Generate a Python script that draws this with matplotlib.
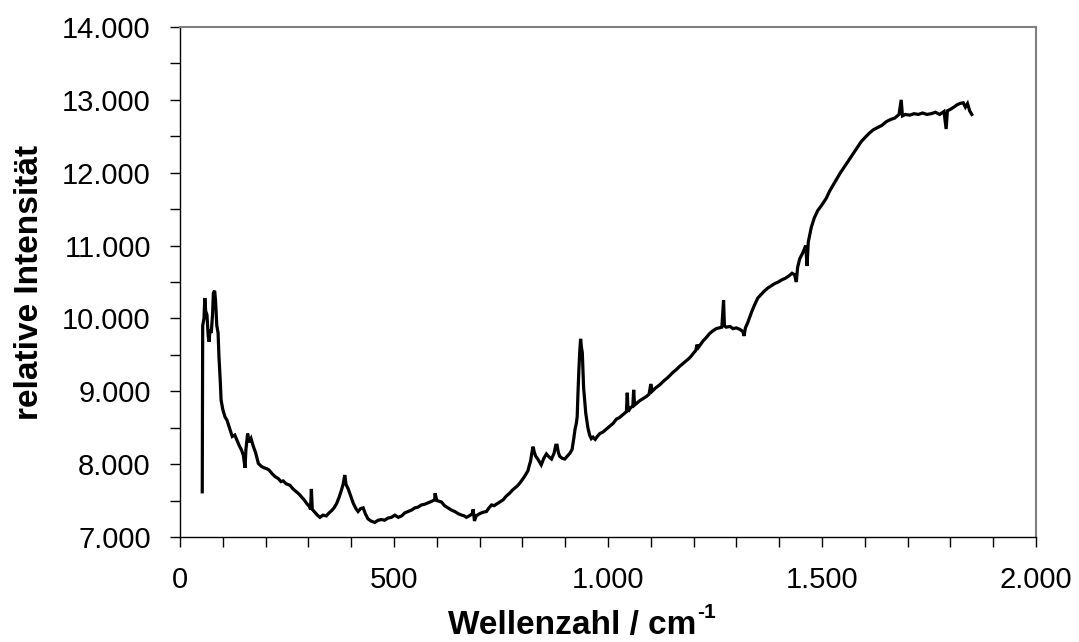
import matplotlib
matplotlib.use("Agg")
import matplotlib.pyplot as plt
from matplotlib.ticker import MultipleLocator, FuncFormatter

plt.rcParams['font.family'] = ['Liberation Sans', 'DejaVu Sans']

# spectrum (wavenumber / relative intensity)
wavenumber = [
    52, 53, 56, 58, 60, 63, 66, 68, 70, 73, 76, 78, 81, 83, 86, 89, 91, 94, 96, 100,
    105, 110, 117, 122, 128, 133, 138, 144, 148, 152, 154, 158, 162, 166, 171, 177, 183, 190, 196, 202,
    208, 215, 222, 230, 236, 241, 248, 257, 264, 272, 278, 284, 290, 296, 302, 305, 307, 309, 315, 321,
    327, 334, 342, 348, 354, 360, 366, 372, 377, 381, 385, 388, 393, 399, 405, 411, 416, 422, 428, 433,
    439, 446, 455, 463, 471, 478, 486, 494, 502, 510, 518, 525, 533, 541, 549, 556, 564, 572, 580, 588,
    595, 596, 600, 606, 611, 618, 626, 634, 642, 650, 658, 664, 669, 676, 683, 685, 688, 692, 700, 708,
    716, 722, 728, 734, 739, 747, 755, 762, 770, 776, 782, 788, 794, 800, 805, 810, 813, 816, 819, 822,
    825, 828, 831, 837, 844, 850, 856, 862, 868, 874, 878, 881, 884, 887, 893, 899, 905, 911, 916, 920,
    923, 926, 928, 930, 932, 934, 936, 938, 940, 942, 943, 946, 948, 951, 953, 957, 961, 965, 970, 975,
    981, 988, 996, 1004, 1012, 1020, 1027, 1035, 1043, 1045, 1047, 1052, 1058, 1060, 1062, 1068, 1074, 1082, 1090, 1096,
    1100, 1103, 1110, 1121, 1130, 1140, 1150, 1160, 1167, 1175, 1183, 1191, 1198, 1205, 1208, 1211, 1217, 1222, 1230, 1237,
    1245, 1253, 1260, 1266, 1270, 1272, 1276, 1285, 1292, 1300, 1308, 1315, 1318, 1321, 1327, 1335, 1342, 1350, 1358, 1366,
    1374, 1382, 1390, 1398, 1406, 1414, 1422, 1430, 1436, 1440, 1443, 1448, 1455, 1462, 1465, 1468, 1475, 1482, 1490, 1500,
    1510, 1518, 1525, 1533, 1542, 1550, 1558, 1566, 1575, 1584, 1592, 1600, 1610, 1620, 1630, 1640, 1650, 1660, 1670, 1680,
    1685, 1688, 1695, 1705, 1715, 1725, 1735, 1745, 1755, 1765, 1775, 1785, 1790, 1793, 1800, 1808, 1815, 1822, 1830, 1835,
    1840, 1845, 1850,
]
intensity = [
    7620, 9900, 10000, 10280, 10100, 10050, 9750, 9680, 9850, 9800, 10050, 10350, 10380, 10250, 9900, 9800, 9480, 9150, 8880, 8750,
    8650, 8600, 8470, 8380, 8400, 8330, 8260, 8190, 8120, 7950, 8200, 8420, 8300, 8350, 8250, 8150, 8010, 7970, 7950, 7940,
    7920, 7870, 7830, 7800, 7760, 7770, 7730, 7710, 7660, 7620, 7590, 7550, 7510, 7460, 7420, 7380, 7660, 7380, 7340, 7300,
    7270, 7300, 7290, 7330, 7360, 7400, 7460, 7550, 7640, 7720, 7850, 7720, 7660, 7560, 7460, 7390, 7350, 7390, 7400, 7320,
    7250, 7220, 7200, 7230, 7240, 7230, 7260, 7270, 7300, 7270, 7290, 7330, 7350, 7370, 7400, 7410, 7440, 7450, 7470, 7490,
    7510, 7600, 7500, 7490, 7480, 7430, 7400, 7370, 7350, 7320, 7300, 7290, 7270, 7290, 7320, 7380, 7220, 7290, 7320, 7340,
    7350, 7400, 7440, 7430, 7450, 7480, 7510, 7560, 7600, 7640, 7670, 7700, 7740, 7790, 7830, 7880, 7910, 7980, 8040, 8150,
    8240, 8160, 8110, 8060, 7990, 8080, 8140, 8100, 8070, 8150, 8260, 8260, 8160, 8110, 8080, 8070, 8110, 8150, 8200, 8350,
    8480, 8560, 8650, 9000, 9300, 9550, 9720, 9600, 9530, 9200, 9050, 8850, 8700, 8580, 8500, 8400, 8350, 8370, 8340, 8380,
    8420, 8440, 8480, 8520, 8560, 8620, 8640, 8680, 8720, 8980, 8720, 8770, 8800, 9020, 8810, 8840, 8870, 8900, 8930, 8960,
    9100, 9000, 9040, 9090, 9140, 9190, 9250, 9300, 9340, 9380, 9420, 9460, 9510, 9560, 9640, 9600, 9650, 9690, 9740, 9790,
    9830, 9860, 9870, 9880, 10250, 9900, 9880, 9890, 9860, 9870, 9850, 9820, 9760, 9870, 9950, 10080, 10180, 10280, 10330, 10380,
    10420, 10450, 10480, 10500, 10530, 10550, 10580, 10620, 10600, 10500, 10700, 10820, 10900, 11000, 10720, 11050, 11250, 11380, 11480, 11560,
    11650, 11750, 11820, 11900, 11990, 12060, 12130, 12200, 12280, 12360, 12430, 12480, 12540, 12590, 12620, 12650, 12700, 12730, 12750, 12800,
    13000, 12780, 12800, 12790, 12810, 12800, 12820, 12800, 12810, 12830, 12800, 12840, 12600, 12850, 12870, 12900, 12930, 12950, 12960, 12900,
    12950, 12850, 12800,
]

x_ticks = [0, 500, 1000, 1500, 2000]
y_ticks = [7000, 8000, 9000, 10000, 11000, 12000, 13000, 14000]


def german(v, pos):
    return f"{v:,.0f}".replace(",", ".")


W, H = 1079, 642
fig = plt.figure(figsize=(W / 100, H / 100), dpi=100)
ax = fig.add_axes([180 / W, 1 - 537 / H, 856 / W, 510 / H])

ax.plot(wavenumber, intensity, color='black', linewidth=2.3, solid_joinstyle='miter')

ax.set_xlim(0, 2000)
ax.set_ylim(7000, 14000)
ax.set_xticks(x_ticks)
ax.set_yticks(y_ticks)
ax.xaxis.set_minor_locator(MultipleLocator(100))
ax.yaxis.set_minor_locator(MultipleLocator(500))
ax.xaxis.set_major_formatter(FuncFormatter(german))
ax.yaxis.set_major_formatter(FuncFormatter(german))

ax.tick_params(which='both', direction='out', length=7, width=1, color='black')
ax.tick_params(axis='x', which='major', pad=14, labelsize=21)
ax.tick_params(axis='y', which='major', pad=14, labelsize=21)

for side in ['left', 'bottom']:
    ax.spines[side].set_color('black')
    ax.spines[side].set_linewidth(1)
for side in ['top', 'right']:
    ax.spines[side].set_color('#808080')
    ax.spines[side].set_linewidth(1.5)

ax.set_ylabel("relative Intensität", fontsize=24, fontweight='bold', labelpad=12)

# x label with a raised "-1"
xl = fig.text(572 / W, 8 / H, "Wellenzahl / cm", fontsize=24, fontweight='bold',
              ha='center', va='baseline')
fig.canvas.draw()
bb = xl.get_window_extent()
fig.text((bb.x1 + 1) / W, (bb.y1 - 2) / H, "-1", fontsize=15, fontweight='bold',
         ha='left', va='center')

fig.savefig("out.png", dpi=100)
